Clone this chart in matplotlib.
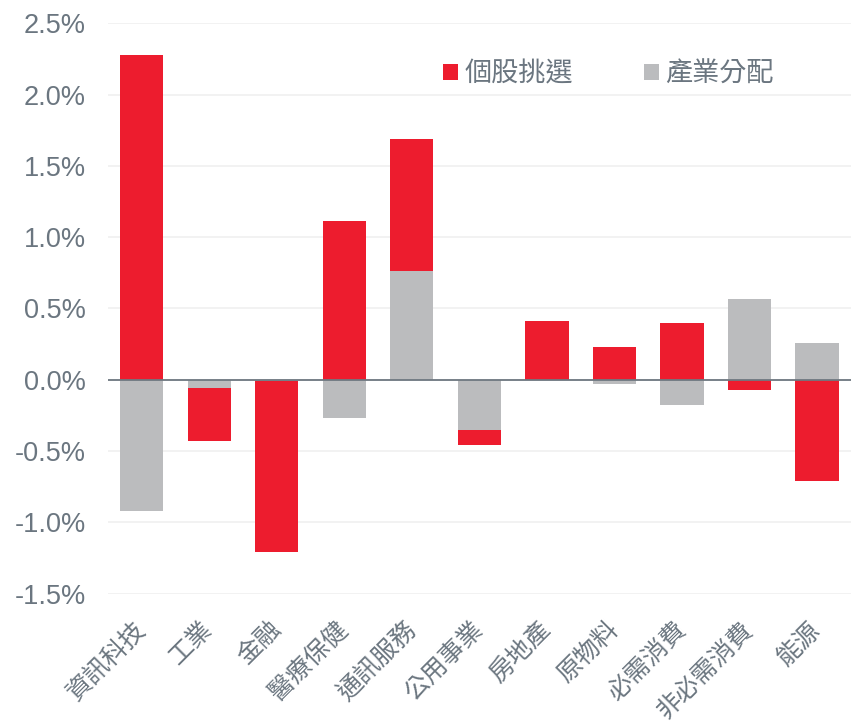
import numpy as np
import matplotlib.pyplot as plt
from matplotlib.ticker import FuncFormatter

sectors = ['資訊科技', '工業', '金融', '醫療保健', '通訊服務', '公用事業',
           '房地產', '原物料', '必需消費', '非必需消費', '能源']
stock_sel = [2.28, -0.37, -1.20, 1.11, 0.93, -0.11, 0.41, 0.23, 0.40, -0.07, -0.71]
sector_alloc = [-0.92, -0.06, -0.01, -0.27, 0.76, -0.35, 0.0, -0.03, -0.18, 0.57, 0.26]

red = '#ED1C2E'
gray = '#BBBCBE'
txt = '#6B7680'

plt.rcParams['font.family'] = ['Liberation Sans', 'Noto Sans CJK TC', 'DejaVu Sans']

fig = plt.figure(figsize=(8.56, 7.25), dpi=100)
ax = fig.add_axes([0.126, 0.181, 0.868, 0.787])

x = np.arange(len(sectors))
sel = np.array(stock_sel)
alloc = np.array(sector_alloc)
# red stacks on top of gray when same sign, otherwise starts at zero
bottom = np.where(np.sign(sel) == np.sign(alloc), alloc, 0.0)

w = 0.64
ax.bar(x, alloc, w, color=gray, label='產業分配', zorder=2)
ax.bar(x, sel, w, bottom=bottom, color=red, label='個股挑選', zorder=2)
ax.axhline(0, color='#6E7881', lw=1.3, zorder=3)

ax.set_xlim(-0.5, len(sectors) - 0.5)
ax.set_ylim(-1.5, 2.5)
ax.set_yticks(np.arange(-1.5, 2.51, 0.5))
ax.yaxis.set_major_formatter(FuncFormatter(lambda v, p: f'{v:.1f}%'))
ax.grid(axis='y', color='#F0F0F0', lw=1.2, zorder=0)
ax.set_axisbelow(True)
for s in ax.spines.values():
    s.set_visible(False)
ax.tick_params(length=0, labelsize=19.5, colors=txt, pad=16)

ax.set_xticks(x)
ax.set_xticklabels(sectors, rotation=45, ha='right', va='center',
                   rotation_mode='anchor', fontsize=18,
                   family=['Noto Sans CJK TC', 'DejaVu Sans'])
ax.tick_params(axis='x', pad=23)

h, l = ax.get_legend_handles_labels()
leg = fig.legend(h[::-1], l[::-1], loc='center', bbox_to_anchor=(0.711, 0.898),
                 ncol=2, frameon=False, handlelength=0.55, handleheight=0.55,
                 handletextpad=0.25, columnspacing=2.6,
                 prop={'family': ['Noto Sans CJK TC', 'DejaVu Sans'], 'size': 19.5})
for t in leg.get_texts():
    t.set_color(txt)

fig.savefig('out.png', dpi=100)
